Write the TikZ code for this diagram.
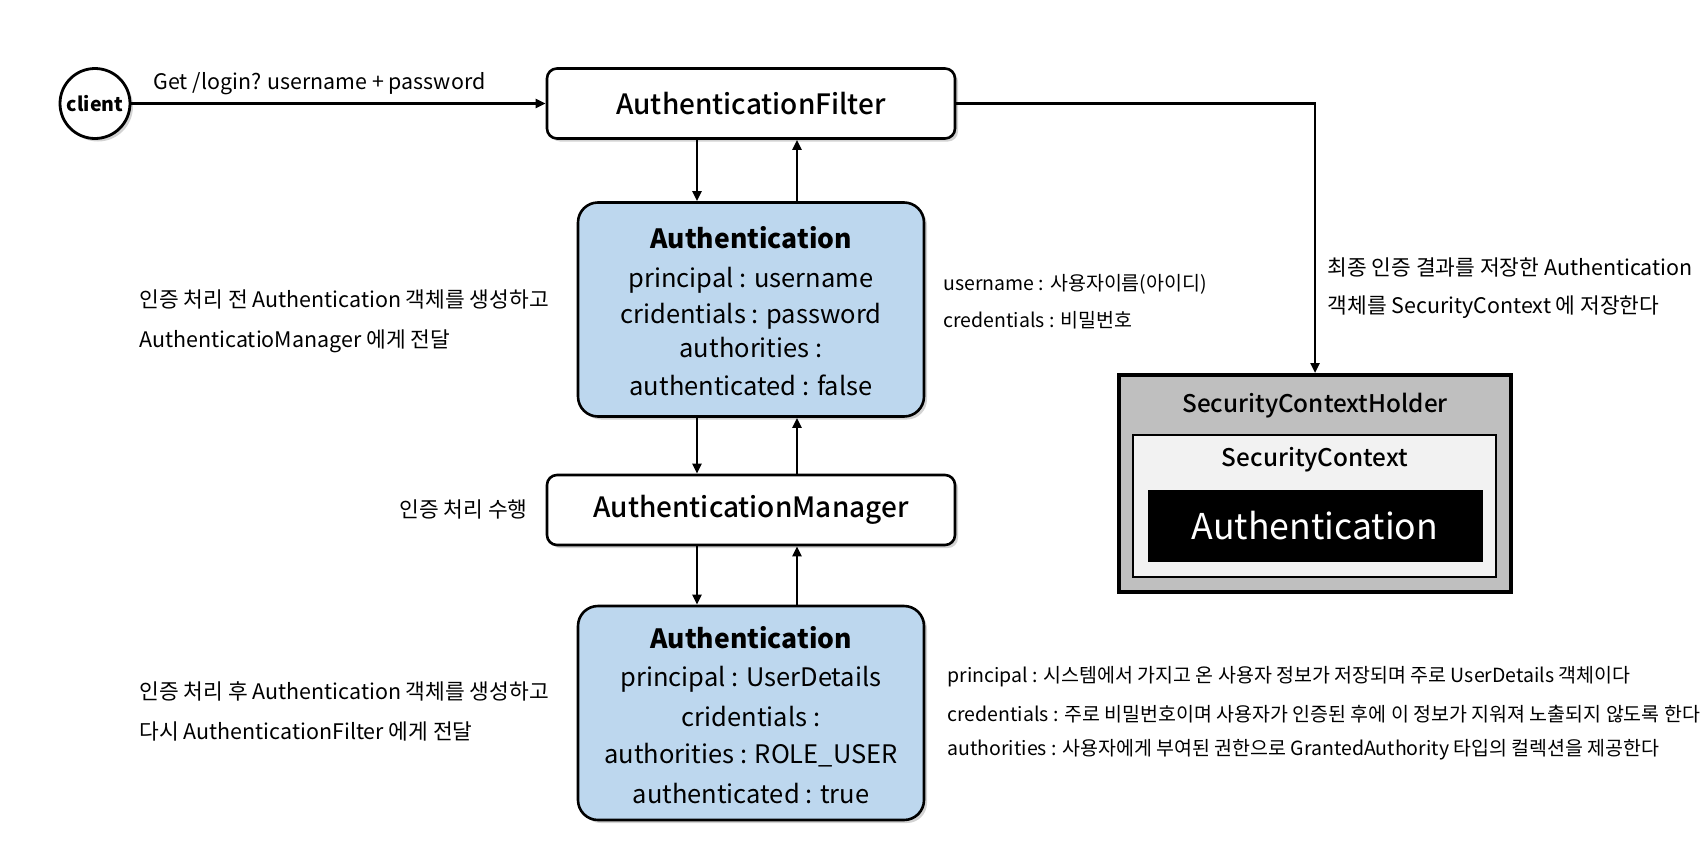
\documentclass[tikz,border=0pt]{standalone}
\usepackage{fontspec}
\setmainfont{Noto Sans CJK KR}
\newfontfamily\medfont{Noto Sans CJK KR}[UprightFont=* Medium]
\usetikzlibrary{arrows.meta,shadows}
\definecolor{authblue}{HTML}{BDD7EE}
\definecolor{holdergray}{HTML}{BFBFBF}
\definecolor{ctxgray}{HTML}{F2F2F2}
\tikzset{
  shd/.style={drop shadow={opacity=0.35,shadow xshift=3pt,shadow yshift=-3pt}},
  whitebox/.style={draw=black,line width=2.6pt,rounded corners=10pt,fill=white,shd,minimum width=408pt,minimum height=70pt,font=\medfont\fontsize{28}{32}\selectfont},
  authbox/.style={draw=black,line width=2.6pt,rounded corners=20pt,fill=authblue,shd,minimum width=346pt,minimum height=214pt},
  arr/.style={line width=2.4pt,-{Triangle[width=9pt,length=10pt]}},
  head/.style={font=\bfseries\fontsize{26.5}{30}\selectfont},
  body/.style={font=\fontsize{25.5}{30}\selectfont},
  note/.style={font=\fontsize{21.45}{25}\selectfont,anchor=west},
  snote/.style={font=\fontsize{19.5}{23}\selectfont,anchor=west},
}
\begin{document}
\begin{tikzpicture}[x=1pt,y=-1pt]
\useasboundingbox (0,0) rectangle (1708,865);
\coordinate (xd) at (697,0);
\coordinate (xu) at (797,0);

% client
\node[circle,draw=black,line width=2.8pt,fill=white,shd,minimum size=70pt,inner sep=0pt,font=\bfseries\fontsize{19.5}{23}\selectfont] (client) at (95,103.5) {client};

% boxes
\node[whitebox] (filter) at (751,103.5) {AuthenticationFilter};
\node[authbox] (auth1) at (751,309.5) {};
\node[whitebox] (mgr) at (751,510) {AuthenticationManager};
\node[authbox] (auth2) at (751,713) {};

% auth1 text
\node[head] (a1h) at (751,238) {Authentication};
\node[body] (a1l1) at (751,280) {principal : username};
\node[body] (a1l2) at (751,316) {cridentials : password};
\node[body] (a1l3) at (751,348) {authorities :};
\node[body] (a1l4) at (751,385) {authenticated : false};

% auth2 text
\node[head] (a2h) at (751,638) {Authentication};
\node[body] (a2l1) at (751,679.5) {principal : UserDetails};
\node[body] (a2l2) at (751,717) {cridentials :};
\node[body] (a2l3) at (751,755) {authorities : ROLE\_USER};
\node[body] (a2l4) at (751,794) {authenticated : true};

% security context holder
\node[draw=black,line width=4pt,fill=holdergray,minimum width=392pt,minimum height=217pt,inner sep=0pt] (sch) at (1315,483.5) {};
\node[font=\medfont\fontsize{24.3}{28}\selectfont] (schl) at (1315,406) {SecurityContextHolder};
\node[draw=black,line width=2.6pt,fill=ctxgray,minimum width=363pt,minimum height=142pt,inner sep=0pt] (sc) at (1314.5,506) {};
\node[font=\medfont\fontsize{24.3}{28}\selectfont] (scl) at (1315,460) {SecurityContext};
\node[draw=black,line width=1pt,fill=black,text=white,minimum width=334pt,minimum height=71pt,inner sep=0pt,font=\fontsize{35.6}{40}\selectfont] (blk) at (1315,525.5) {Authentication};

% connectors
\draw[arr] (client) -- (filter);
\draw[arr] (filter.south -| xd) -- (auth1.north -| xd);
\draw[arr] (auth1.north -| xu) -- (filter.south -| xu);
\draw[arr] (auth1.south -| xd) -- (mgr.north -| xd);
\draw[arr] (mgr.north -| xu) -- (auth1.south -| xu);
\draw[arr] (mgr.south -| xd) -- (auth2.north -| xd);
\draw[arr] (auth2.north -| xu) -- (mgr.south -| xu);
\draw[arr] (filter.east) -| (sch.north);

% labels
\node[font=\fontsize{21.4}{25}\selectfont,anchor=west] (getl) at (150,84) {Get /login? username + password};

\node[note] (n1a) at (136,299) {인증 처리 전 Authentication 객체를 생성하고};
\node[note] (n1b) at (136,341) {AuthenticatioManager 에게 전달};
\node[note,anchor=east] (n2) at (531,509) {인증 처리 수행};
\node[note] (n3a) at (136,691.5) {인증 처리 후 Authentication 객체를 생성하고};
\node[note] (n3b) at (136,731) {다시 AuthenticationFilter 에게 전달};

\node[note] (n4a) at (1324,267) {최종 인증 결과를 저장한 Authentication};
\node[note] (n4b) at (1324,307) {객체를 SecurityContext 에 저장한다};

\node[snote] (n5a) at (940,284) {username : 사용자이름(아이디)};
\node[snote] (n5b) at (940,320) {credentials : 비밀번호};

\node[snote] (n6a) at (944,677) {principal : 시스템에서 가지고 온 사용자 정보가 저장되며 주로 UserDetails 객체이다};
\node[snote] (n6b) at (944,714) {credentials : 주로 비밀번호이며 사용자가 인증된 후에 이 정보가 지워져 노출되지 않도록 한다};
\node[snote] (n6c) at (944,750) {authorities : 사용자에게 부여된 권한으로 GrantedAuthority 타입의 컬렉션을 제공한다};
\end{tikzpicture}
\end{document}
